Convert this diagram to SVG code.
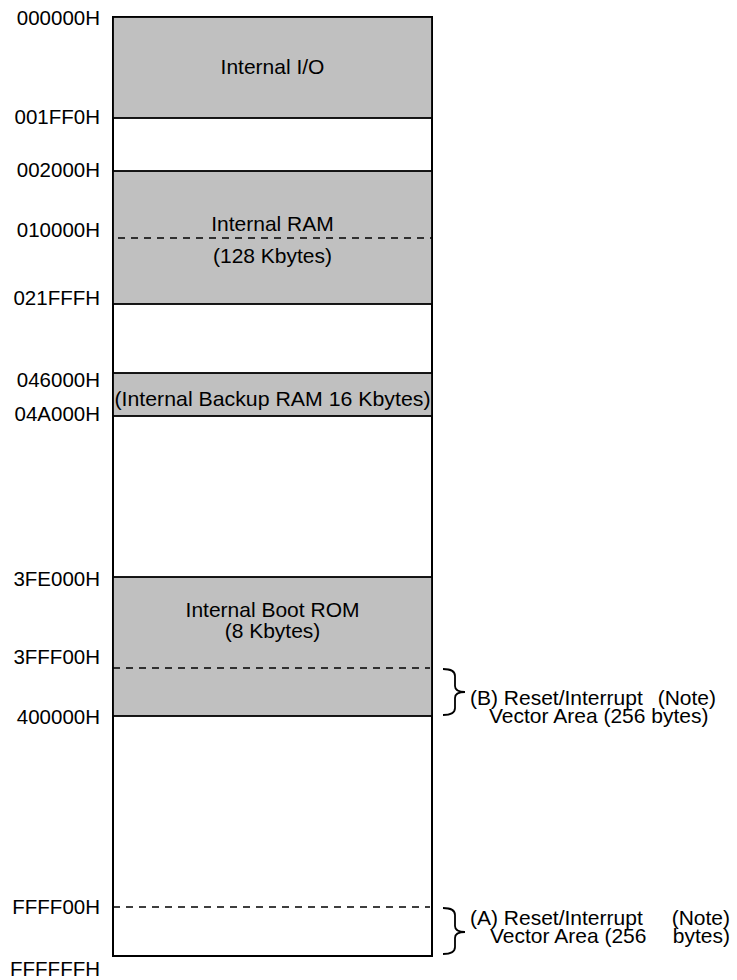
<svg xmlns="http://www.w3.org/2000/svg" width="737" height="980" viewBox="0 0 737 980">
<style>
text{font-family:"Liberation Sans",Arial,sans-serif;font-size:20.5px;fill:#000}
.lbl{text-anchor:end}
.c{text-anchor:middle;font-size:21px}
.n{font-size:21px}
.area{fill:#c0c0c0;stroke:#000;stroke-width:1.8}
.dash{stroke:#000;stroke-width:1.5;stroke-dasharray:7 6;fill:none}
.br{fill:none;stroke:#000;stroke-width:1.8}
</style>
<rect width="737" height="980" fill="#fff"/>
<g id="map">
<rect x="113" y="17" width="319" height="939" fill="#fff" stroke="#000" stroke-width="2"/>
</g>
<g id="internal-io">
<rect class="area" x="113" y="17" width="319" height="101"/>
<text class="c" x="272.5" y="74">Internal I/O</text>
</g>
<g id="internal-ram">
<rect class="area" x="113" y="171" width="319" height="133"/>
<line class="dash" x1="118" y1="238" x2="432" y2="238"/>
<text class="c" x="272.5" y="231">Internal RAM</text>
<text class="c" x="272.5" y="263">(128 Kbytes)</text>
</g>
<g id="backup-ram">
<rect class="area" x="113" y="373" width="319" height="43"/>
<text class="c" x="272.5" y="406" font-size="21.4" textLength="316" lengthAdjust="spacingAndGlyphs">(Internal Backup RAM 16 Kbytes)</text>
</g>
<g id="boot-rom">
<rect class="area" x="113" y="577" width="319" height="139"/>
<line class="dash" x1="113" y1="668" x2="430" y2="668"/>
<text class="c" x="272.5" y="617">Internal Boot ROM</text>
<text class="c" x="272.5" y="638">(8 Kbytes)</text>
</g>
<g id="vector-a-line">
<line class="dash" x1="113" y1="907" x2="430" y2="907"/>
</g>
<g id="addresses">
<text class="lbl" x="100" y="25">000000H</text>
<text class="lbl" x="100" y="124">001FF0H</text>
<text class="lbl" x="100" y="177">002000H</text>
<text class="lbl" x="100" y="237">010000H</text>
<text class="lbl" x="100" y="305">021FFFH</text>
<text class="lbl" x="100" y="387">046000H</text>
<text class="lbl" x="100" y="421">04A000H</text>
<text class="lbl" x="100" y="586">3FE000H</text>
<text class="lbl" x="100" y="664">3FFF00H</text>
<text class="lbl" x="100" y="724">400000H</text>
<text class="lbl" x="100" y="914">FFFF00H</text>
<text class="lbl" x="100" y="976">FFFFFFH</text>
</g>
<g id="note-b">
<path class="br" d="M443,669 Q455,669 455,676 L455,686 Q455,692 465,692 Q455,692 455,698 L455,708 Q455,715 443,715"/>
<text class="n" x="470" y="705">(B) Reset/Interrupt<tspan x="716" text-anchor="end">(Note)</tspan></text>
<text class="n" x="489" y="723">Vector Area (256 bytes)</text>
</g>
<g id="note-a">
<path class="br" d="M443,908 Q455,908 455,915 L455,926 Q455,932 465,932 Q455,932 455,938 L455,947 Q455,954 443,954"/>
<text class="n" x="470" y="925">(A) Reset/Interrupt<tspan x="730" text-anchor="end">(Note)</tspan></text>
<text class="n" x="490" y="943">Vector Area (256<tspan x="730" text-anchor="end">bytes)</tspan></text>
</g>
</svg>
